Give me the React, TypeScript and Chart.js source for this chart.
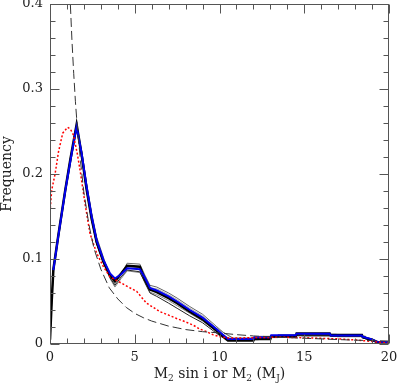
import React, { useEffect, useRef } from 'react';
import { Chart, registerables } from 'chart.js';

Chart.register(...registerables);

// Shared mass grid (M_J) for the main histograms
const gridX = [0, 0.1, 0.2, 0.5, 0.9, 1.2, 1.57, 1.87, 2.16, 2.46, 2.75, 3.15, 3.54, 3.83, 4.2, 4.55, 5.3, 5.6, 5.9, 6.3, 7.0, 7.5, 8.25, 9.0, 9.8, 10.0, 10.5, 12.0, 12.05, 13.0, 13.05, 14.5, 14.55, 16.5, 16.55, 18.4, 18.45, 19.0, 19.3, 20];
const blueY = [null, null, 0.087, 0.128, 0.180, 0.215, 0.256, 0.224, 0.185, 0.150, 0.122, 0.099, 0.083, 0.077, 0.082, 0.089, 0.088, 0.078, 0.066, 0.063, 0.056, 0.050, 0.040, 0.031, 0.018, 0.0145, 0.0058, 0.0058, 0.0078, 0.0078, 0.0102, 0.0102, 0.0122, 0.0122, 0.0100, 0.0100, 0.0085, 0.0055, 0.0025, 0.002];
const blackY = [0.005, 0.050, 0.088, 0.129, 0.181, 0.217, 0.258, 0.222, 0.182, 0.147, 0.120, 0.097, 0.081, 0.074, 0.083, 0.092, 0.091, 0.076, 0.064, 0.061, 0.054, 0.048, 0.038, 0.029, 0.016, 0.012, 0.004, 0.004, 0.006, 0.006, 0.009, 0.009, 0.0125, 0.0125, 0.0105, 0.0105, 0.008, 0.005, 0.002, 0.0015];
const blackThinY = [0.005, 0.049, 0.087, 0.127, 0.180, 0.216, 0.256, 0.221, 0.181, 0.146, 0.118, 0.096, 0.078, 0.069, 0.079, 0.087, 0.085, 0.072, 0.060, 0.056, 0.048, 0.042, 0.033, 0.025, 0.013, 0.010, 0.005, 0.005, 0.006, 0.006, 0.008, 0.008, 0.010, 0.010, 0.009, 0.009, 0.007, 0.004, 0.002, 0.001];

// Gray ensemble (tails binned slightly differently)
const grayX = [0, 0.1, 0.2, 0.5, 0.9, 1.2, 1.57, 1.87, 2.16, 2.46, 2.75, 3.15, 3.54, 3.83, 4.2, 4.55, 5.3, 5.6, 5.9, 6.3, 7.0, 7.5, 8.25, 9.0, 9.8, 10.2, 10.8, 12.3, 12.35, 13.4, 13.45, 14.8, 14.85, 16.9, 16.95, 18.6, 18.65, 19.2, 19.5, 20];
const grayAY = [0.004, 0.048, 0.086, 0.126, 0.178, 0.212, 0.252, 0.227, 0.189, 0.154, 0.126, 0.102, 0.080, 0.071, 0.082, 0.095, 0.094, 0.081, 0.069, 0.067, 0.060, 0.054, 0.044, 0.035, 0.021, 0.014, 0.007, 0.007, 0.009, 0.009, 0.011, 0.011, 0.0105, 0.0105, 0.009, 0.009, 0.007, 0.004, 0.002, 0.0015];
const grayBY = [0.006, 0.052, 0.090, 0.131, 0.183, 0.219, 0.255, 0.220, 0.180, 0.145, 0.118, 0.095, 0.077, 0.067, 0.077, 0.086, 0.084, 0.073, 0.061, 0.058, 0.051, 0.045, 0.036, 0.027, 0.015, 0.010, 0.005, 0.005, 0.0075, 0.0075, 0.0095, 0.0095, 0.009, 0.009, 0.0085, 0.0085, 0.006, 0.0035, 0.0015, 0.001];
const grayCY = [0.005, 0.049, 0.087, 0.127, 0.179, 0.214, 0.257, 0.226, 0.187, 0.152, 0.124, 0.100, 0.082, 0.073, 0.084, 0.091, 0.090, 0.079, 0.066, 0.065, 0.058, 0.052, 0.042, 0.033, 0.019, 0.014, 0.006, 0.006, 0.008, 0.008, 0.010, 0.010, 0.0115, 0.0115, 0.0095, 0.0095, 0.0075, 0.0045, 0.002, 0.0015];

// Red dotted curve
const redX = [0, 0.1, 0.3, 0.5, 0.75, 1.04, 1.2, 1.38, 1.6, 1.77, 2.06, 2.36, 2.75, 3.15, 3.54, 4.0, 4.62, 5.11, 5.4, 5.7, 6.1, 6.49, 7.0, 7.47, 8.0, 8.46, 8.85, 9.24, 9.6, 10.03, 10.5, 11, 12, 13, 14, 15, 16, 17, 18, 19, 19.5, 20];
const redY = [0.155, 0.181, 0.200, 0.226, 0.248, 0.255, 0.253, 0.246, 0.225, 0.205, 0.166, 0.130, 0.107, 0.091, 0.079, 0.074, 0.067, 0.062, 0.055, 0.048, 0.043, 0.038, 0.034, 0.030, 0.026, 0.022, 0.0175, 0.0145, 0.011, 0.0086, 0.0072, 0.007, 0.0075, 0.0078, 0.0078, 0.0074, 0.0067, 0.006, 0.0048, 0.003, 0.002, 0.001];

// Dash-dot analytic curve
const dashX = [1.1, 1.2, 1.3, 1.4, 1.5, 1.6, 1.8, 2.0, 2.3, 2.6, 3.0, 3.5, 4.0, 4.5, 5.0, 5.5, 6.0, 6.5, 7.0, 7.5, 8.0, 9.0, 10.0, 11.0, 12.0, 13.0, 14.0, 15.0, 16.0, 17.0, 18.0, 19.0, 20.0];
const dashY = [0.46, 0.40, 0.355, 0.318, 0.285, 0.258, 0.215, 0.178, 0.140, 0.112, 0.088, 0.066, 0.053, 0.043, 0.036, 0.031, 0.027, 0.024, 0.021, 0.019, 0.017, 0.0145, 0.013, 0.011, 0.0095, 0.0085, 0.0075, 0.0068, 0.006, 0.0052, 0.0045, 0.004, 0.0035];

const xTicks = [0, 5, 10, 15, 20];
const yTicks = [0, 0.1, 0.2, 0.3, 0.4];

const FONT = 'DejaVu Serif';

function pts(xs: number[], ys: (number | null)[]) {
  return xs.map((x, i) => ({ x, y: ys[i] }));
}

export default function App() {
  const ref = useRef<HTMLCanvasElement>(null);
  useEffect(() => {
    document.body.style.margin = '0';
    const canvas = ref.current!;
    const framePlugin = {
      id: 'frame',
      afterDraw(chart: any) {
        const { ctx, chartArea: a, scales } = chart;
        const xs = scales.x, ys = scales.y;
        ctx.save();
        ctx.strokeStyle = '#555';
        ctx.lineWidth = 1;
        const L = Math.round(a.left) + 0.5, R = Math.round(a.right) - 0.5;
        const T = Math.round(a.top) + 0.5, B = Math.round(a.bottom) - 0.5;
        ctx.strokeRect(L, T, R - L, B - T);
        ctx.beginPath();
        for (let v = 0; v <= 20; v++) {
          const px = Math.round(xs.getPixelForValue(v)) + 0.5;
          const len = v % 5 === 0 ? 9 : 5;
          ctx.moveTo(px, B); ctx.lineTo(px, B - len);
          ctx.moveTo(px, T); ctx.lineTo(px, T + len);
        }
        for (let i = 0; i <= 20; i++) {
          const py = Math.round(ys.getPixelForValue(i * 0.02)) + 0.5;
          const len = i % 5 === 0 ? 9 : 5;
          ctx.moveTo(L, py); ctx.lineTo(L + len, py);
          ctx.moveTo(R, py); ctx.lineTo(R - len, py);
        }
        ctx.stroke();

        // x title with subscripts
        ctx.fillStyle = '#222';
        const big = `14px "${FONT}"`, small = `9px "${FONT}"`;
        const parts: [string, boolean][] = [['M', false], ['2', true], [' sin i or M', false], ['2', true], [' (M', false], ['J', true], [')', false]];
        let total = 0;
        for (const [t, s] of parts) { ctx.font = s ? small : big; total += ctx.measureText(t).width; }
        let x = (a.left + a.right) / 2 - total / 2;
        const base = 378;
        ctx.textBaseline = 'alphabetic';
        ctx.textAlign = 'left';
        for (const [t, s] of parts) {
          ctx.font = s ? small : big;
          ctx.fillText(t, x, s ? base + 3 : base);
          x += ctx.measureText(t).width;
        }
        // y title
        ctx.translate(11, (a.top + a.bottom) / 2);
        ctx.rotate(-Math.PI / 2);
        ctx.font = big;
        ctx.textAlign = 'center';
        ctx.fillText('Frequency', 0, 0);
        ctx.restore();
      },
    };

    const line = (data: any[], color: string, width: number, order: number, dash: number[] = []) => ({
      data, showLine: true, pointRadius: 0, borderColor: color, borderWidth: width,
      borderDash: dash, fill: false, tension: 0, order,
    });

    const chart = new Chart(canvas, {
      type: 'scatter',
      data: {
        datasets: [
          line(pts(dashX, dashY), '#333', 1, 0, [9, 4]),
          line(pts(redX, redY), '#ff0000', 1.5, 1, [2, 2]),
          line(pts(gridX, blueY), '#0000ee', 2, 2),
          line(pts(gridX, blackY), '#000', 2.5, 3),
          line(pts(gridX, blackThinY), '#222', 1, 4),
          line(pts(grayX, grayAY), '#666', 1, 5),
          line(pts(grayX, grayBY), '#888', 1, 6),
          line(pts(grayX, grayCY), '#aaa', 1, 7),
        ] as any,
      },
      options: {
        responsive: false,
        maintainAspectRatio: false,
        animation: false,
        devicePixelRatio: 1,
        layout: { padding: { top: 4, right: 9, left: 0, bottom: 0 } },
        plugins: { legend: { display: false }, tooltip: { enabled: false } },
        scales: {
          x: {
            type: 'linear', min: 0, max: 20,
            afterBuildTicks: (s: any) => { s.ticks = xTicks.map((v) => ({ value: v })); },
            ticks: { font: { family: FONT, size: 13 }, color: '#222', padding: 6, maxRotation: 0, autoSkip: false },
            grid: { display: false, drawTicks: false },
            border: { display: false },
            afterFit: (s: any) => { s.height = 41; s.paddingLeft = 0; s.paddingRight = 0; },
          },
          y: {
            type: 'linear', min: 0, max: 0.4,
            afterBuildTicks: (s: any) => { s.ticks = yTicks.map((v) => ({ value: v })); },
            ticks: {
              font: { family: FONT, size: 13 }, color: '#222', padding: 7,
              callback: (v: any) => (Number(v) === 0 ? '0' : Number(v).toFixed(1)),
            },
            grid: { display: false, drawTicks: false },
            border: { display: false },
            afterFit: (s: any) => { s.width = 50; s.paddingTop = 0; s.paddingBottom = 0; },
          },
        },
      } as any,
      plugins: [framePlugin],
    });
    return () => chart.destroy();
  }, []);
  return (
    <div style={{ width: 398, height: 385 }}>
      <canvas ref={ref} width={398} height={385} style={{ display: 'block' }} />
    </div>
  );
}
